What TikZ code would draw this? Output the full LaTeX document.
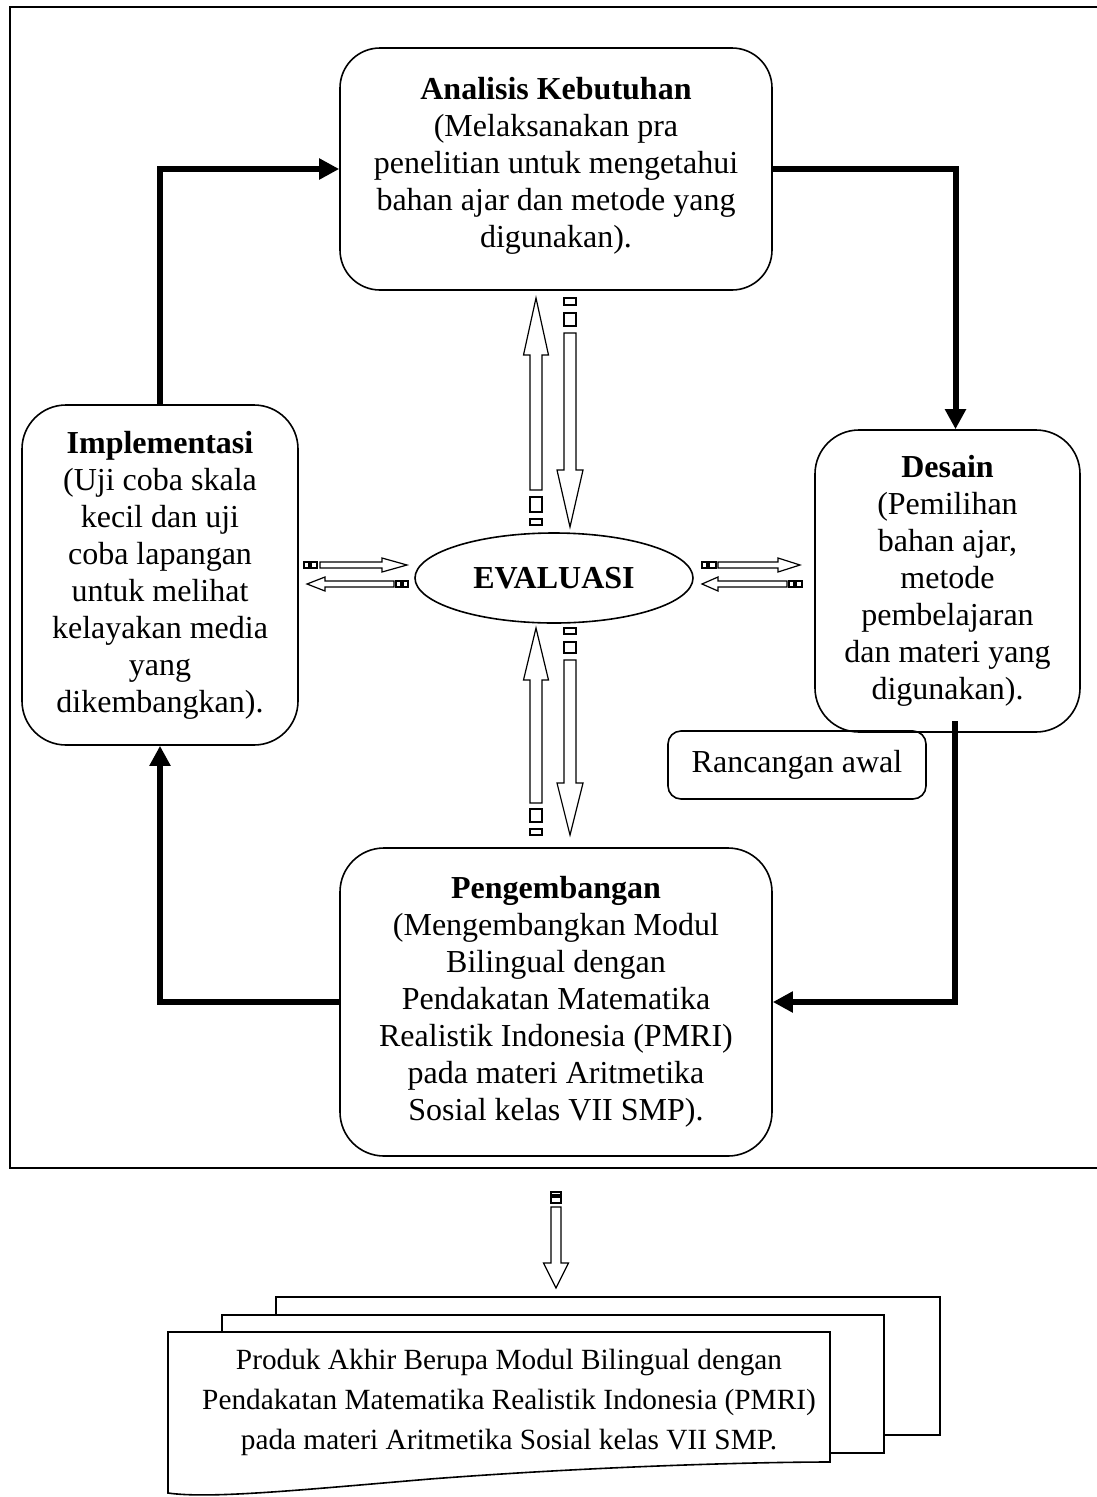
\documentclass[tikz,border=0pt]{standalone}
\usepackage{fontspec}
\setmainfont{Liberation Serif}
\usetikzlibrary{arrows.meta,shapes.geometric}
\newcommand\VArr[6]{\draw[hollow] (#1,#2) -- (#1+#6,#3) -- (#1+#5,#3) -- (#1+#5,#4) -- (#1-#5,#4) -- (#1-#5,#3) -- (#1-#6,#3) -- cycle;}
\newcommand\HArr[6]{\draw[hollow] (#2,#1) -- (#3,#1-#6) -- (#3,#1-#5) -- (#4,#1-#5) -- (#4,#1+#5) -- (#3,#1+#5) -- (#3,#1+#6) -- cycle;}
\begin{document}
\begin{tikzpicture}[x=1pt,y=-1pt,
  box/.style={draw, line width=1.6pt, rounded corners=40pt, align=center, inner sep=0pt,
    font=\fontsize{32}{37}\selectfont},
  conn/.style={line width=6pt, -{Triangle[length=20pt,width=20pt]}},
  hollow/.style={draw, line width=1.2pt, fill=white, line join=miter},
  doc/.style={draw, line width=1.6pt, fill=white}]
\useasboundingbox (0,0) rectangle (1096,1497);
% outer frame (right edge lies at the page edge)
\draw[line width=1.6pt] (1096.8,7) -- (10,7) -- (10,1168) -- (1096.8,1168);
% boxes
\node[box, minimum width=432pt, minimum height=242pt, text depth=14pt] (anal) at (556,169)
  {\textbf{Analisis Kebutuhan}\\(Melaksanakan pra\\penelitian untuk mengetahui\\bahan ajar dan metode yang\\digunakan).};
\node[box, rounded corners=44pt, minimum width=276pt, minimum height=340pt] (impl) at (160,575)
  {\textbf{Implementasi}\\(Uji coba skala\\kecil dan uji\\coba lapangan\\untuk melihat\\kelayakan media\\yang\\dikembangkan).};
\node[box, rounded corners=44pt, minimum width=265pt, minimum height=302pt] (des) at (947.5,581)
  {\textbf{Desain}\\(Pemilihan\\bahan ajar,\\metode\\pembelajaran\\dan materi yang\\digunakan).};
\node[box, rounded corners=44pt, minimum width=432pt, minimum height=308pt] (peng) at (556,1002)
  {\textbf{Pengembangan}\\(Mengembangkan Modul\\Bilingual dengan\\Pendakatan Matematika\\Realistik Indonesia (PMRI)\\pada materi Aritmetika\\Sosial kelas VII SMP).};
\node[box, rounded corners=13pt, minimum width=258pt, minimum height=68pt] (ranc) at (797,765)
  {Rancangan awal};
\node[draw, ellipse, line width=1.6pt, minimum width=278pt, minimum height=90pt, inner sep=0pt,
  font=\fontsize{32}{37}\selectfont\bfseries] (eval) at (554,578) {EVALUASI};
% thick connectors
\coordinate (desout) at (955,721);
\draw[conn] (impl.north) |- (anal.west);
\draw[conn] (anal.east) -| ([xshift=8pt]des.north);
\draw[conn] (desout) |- (peng.east);
\draw[conn] (peng.west) -| (impl.south);
% hollow arrows: upper pair
\VArr{536}{298}{355}{490}{6}{12.5}
\draw[hollow] (530,497) rectangle (542,512);
\draw[hollow] (530,519) rectangle (542,525);
\draw[hollow] (564,298) rectangle (576,305);
\draw[hollow] (564,313) rectangle (576,326);
\VArr{570}{527}{470}{333}{6}{13}
% lower pair
\VArr{536}{628}{680}{803}{6}{12.5}
\draw[hollow] (530,809) rectangle (542,822);
\draw[hollow] (530,829) rectangle (542,835);
\draw[hollow] (564,628) rectangle (576,634);
\draw[hollow] (564,642) rectangle (576,653);
\VArr{570}{835}{783}{660}{6}{13}
% left horizontal pair
\draw[hollow] (304,562) rectangle (309,568);
\draw[hollow] (311,562) rectangle (317,568);
\HArr{565}{407}{382}{320}{3}{7}
\HArr{584}{307}{325}{394}{3}{7}
\draw[hollow] (396,581) rectangle (401,587);
\draw[hollow] (403,581) rectangle (408,587);
% right horizontal pair
\draw[hollow] (702,562) rectangle (707,568);
\draw[hollow] (709,562) rectangle (716,568);
\HArr{565}{800}{778}{718}{3}{7}
\HArr{584}{702}{718}{787}{3}{7}
\draw[hollow] (789,581) rectangle (794,587);
\draw[hollow] (796,581) rectangle (802,587);
% bottom arrow
\draw[hollow] (551,1192) rectangle (561,1195);
\draw[hollow] (551,1197) rectangle (561,1203);
\VArr{556}{1288}{1263}{1207}{5}{12.5}
% document stack
\draw[doc] (276,1297) rectangle (940,1435);
\draw[doc] (222,1315) rectangle (884,1453);
\draw[doc] (168,1332) -- (830,1332) -- (830,1462)
  .. controls (760,1462) and (600,1466) .. (430,1479)
  .. controls (300,1490) and (210,1499) .. (168,1493) -- cycle;
\node[align=center, font=\fontsize{29.3}{40}\selectfont] (prod) at (509,1402)
  {Produk Akhir Berupa Modul Bilingual dengan\\Pendakatan Matematika Realistik Indonesia (PMRI)\\pada materi Aritmetika Sosial kelas VII SMP.};
\end{tikzpicture}
\end{document}
